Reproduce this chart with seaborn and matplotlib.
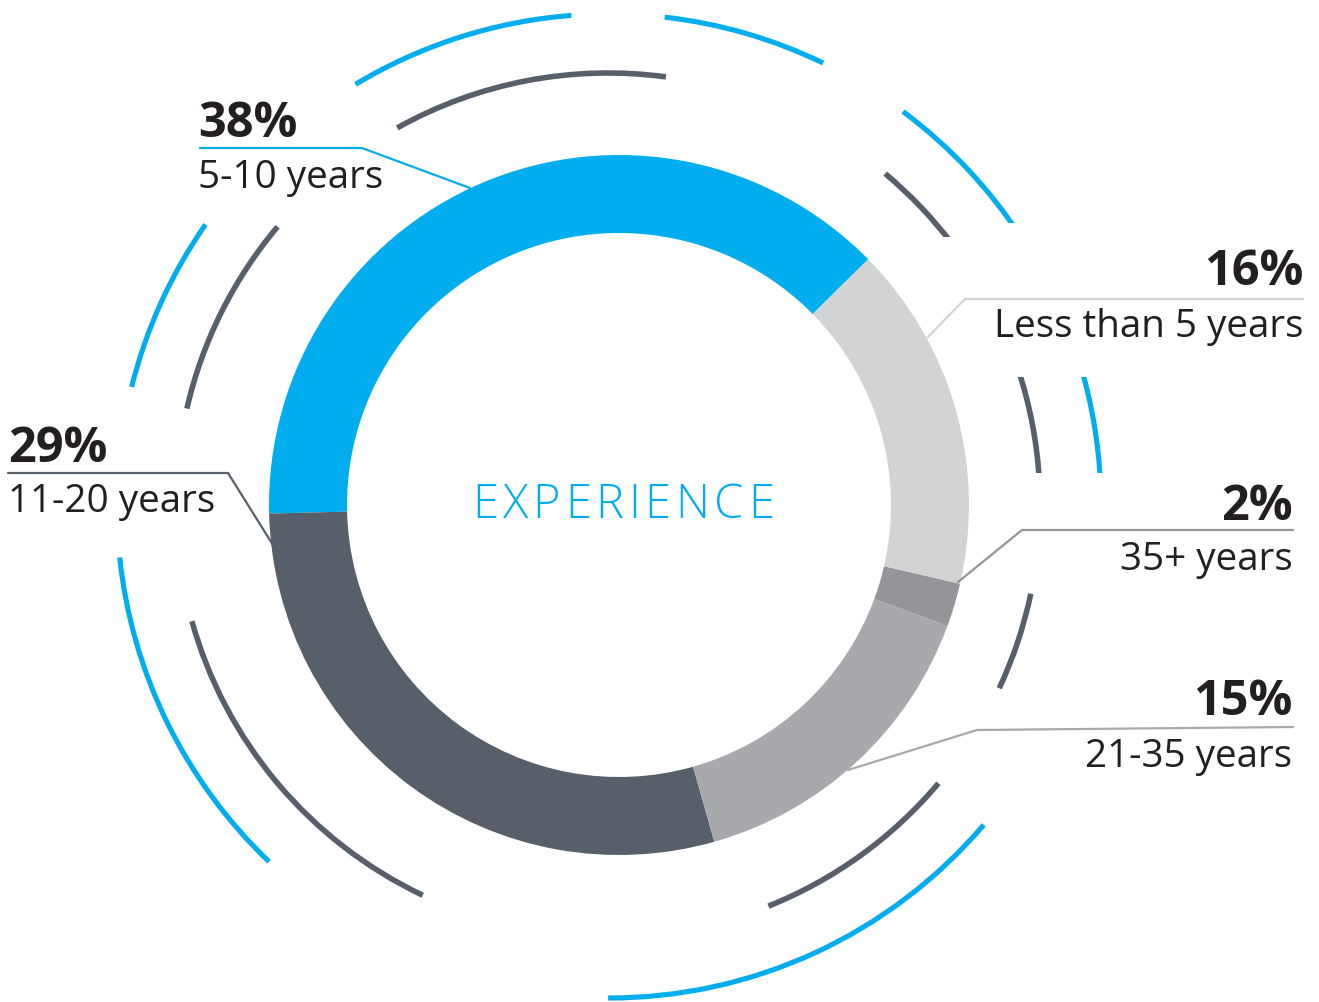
import matplotlib
matplotlib.use("Agg")
import matplotlib.pyplot as plt
from matplotlib.patches import Arc, Rectangle
import seaborn as sns

# ---- data ----
categories = ["5-10 years", "11-20 years", "21-35 years", "35+ years", "Less than 5 years"]
values = [38, 29, 15, 2, 16]
pct_labels = ["38%", "29%", "15%", "2%", "16%"]
colors = ["#00AEEF", "#575F6A", "#A7A9AC", "#939598", "#D1D3D4"]
title = "EXPERIENCE"

sns.set_theme(style="white")
plt.rcParams['font.family'] = ['Open Sans', 'DejaVu Sans']

W, H = 1319, 1002
fig = plt.figure(figsize=(W / 100, H / 100), dpi=100)
ax = fig.add_axes([0, 0, 1, 1])
ax.set_xlim(0, W)
ax.set_ylim(0, H)
ax.set_aspect("equal")
ax.axis("off")

def Y(y):
    return H - y

cx, cy = 619, Y(505)
R_out, ring = 350, 78

ax.pie(values, colors=colors, startangle=44.6, counterclock=True,
       radius=R_out, center=(cx, cy),
       wedgeprops=dict(width=ring, linewidth=0, edgecolor="none"))
ax.set_xlim(0, W)
ax.set_ylim(0, H)
ax.set_aspect("equal")
ax.axis("off")

# decorative arcs: (theta1, theta2, clip-rect in pixel coords or None)
blue_c, blue_r = (609, Y(506)), 492
dark_c, dark_r = (608, Y(505)), 432
blue_arcs = [(94.4, 121.0, None), (64.2, 83.5, None), (33.0, 53.3, (0, 0, W, 223)),
             (2.5, 16.5, (0, 377, W, 473)), (-90.1, -40.4, None),
             (186.0, 226.3, None), (145.1, 166.0, None)]
dark_arcs = [(82.3, 119.2, None), (37.0, 50.1, (0, 0, W, 237)),
             (3.0, 18.5, (0, 377, W, 473)), (-25.1, -11.85, None),
             (-68.2, -40.1, None), (195.6, 244.6, None), (139.9, 167.1, None)]

def draw_arcs(center, r, arcs, col, lw):
    for t1, t2, clip in arcs:
        a = Arc(center, 2 * r, 2 * r, theta1=t1, theta2=t2, color=col, lw=lw,
                capstyle="butt")
        ax.add_patch(a)
        if clip is not None:
            x0, y0, x1, y1 = clip
            rect = Rectangle((x0, Y(y1)), x1 - x0, y1 - y0, transform=ax.transData,
                             facecolor="none", edgecolor="none")
            a.set_clip_path(rect)

draw_arcs(blue_c, blue_r, blue_arcs, "#00AEEF", 3.7)
draw_arcs(dark_c, dark_r, dark_arcs, "#575F6A", 4.0)

# center title with letter tracking
renderer = fig.canvas.get_renderer()
fs_t = 34
widths = []
for ch in title:
    t = ax.text(0, 0, ch, fontsize=fs_t, fontweight="light")
    widths.append(t.get_window_extent(renderer).width)
    t.remove()
x_left, x_right = 472, 774
gap = (x_right - x_left - sum(widths)) / (len(title) - 1)
x = x_left
for ch, w in zip(title, widths):
    ax.text(x, Y(518), ch, ha="left", va="baseline", fontsize=fs_t,
            fontweight="light", color="#00AEEF")
    x += w + gap

txt = "#231F20"
labels = [
    ("38%", "5-10 years", 198, "left", 137, 188, [(200, 148), (362, 148), (470, 188)], "#00AEEF"),
    ("16%", "Less than 5 years", 1303, "right", 285, 337, [(1303, 299), (965, 299), (928, 337)], "#D1D3D4"),
    ("2%", "35+ years", 1293, "right", 520, 570, [(1293, 530), (1022, 530), (958, 582)], "#939598"),
    ("15%", "21-35 years", 1292, "right", 715, 767, [(1293, 727), (977, 730), (848, 770)], "#A7A9AC"),
    ("29%", "11-20 years", 8, "left", 462, 512, [(8, 473), (228, 473), (273, 545)], "#575F6A"),
]
for pct, cat, x, ha, yp, yc, pts, col in labels:
    ax.text(x, Y(yp), pct, ha=ha, va="baseline", fontsize=35, fontweight="bold", color=txt)
    ax.text(x, Y(yc), cat, ha=ha, va="baseline", fontsize=27.8, color=txt)
    ax.plot([p[0] for p in pts], [Y(p[1]) for p in pts], color=col, lw=1.6,
            solid_joinstyle="miter")

fig.savefig("out.png", dpi=100, facecolor="white")
